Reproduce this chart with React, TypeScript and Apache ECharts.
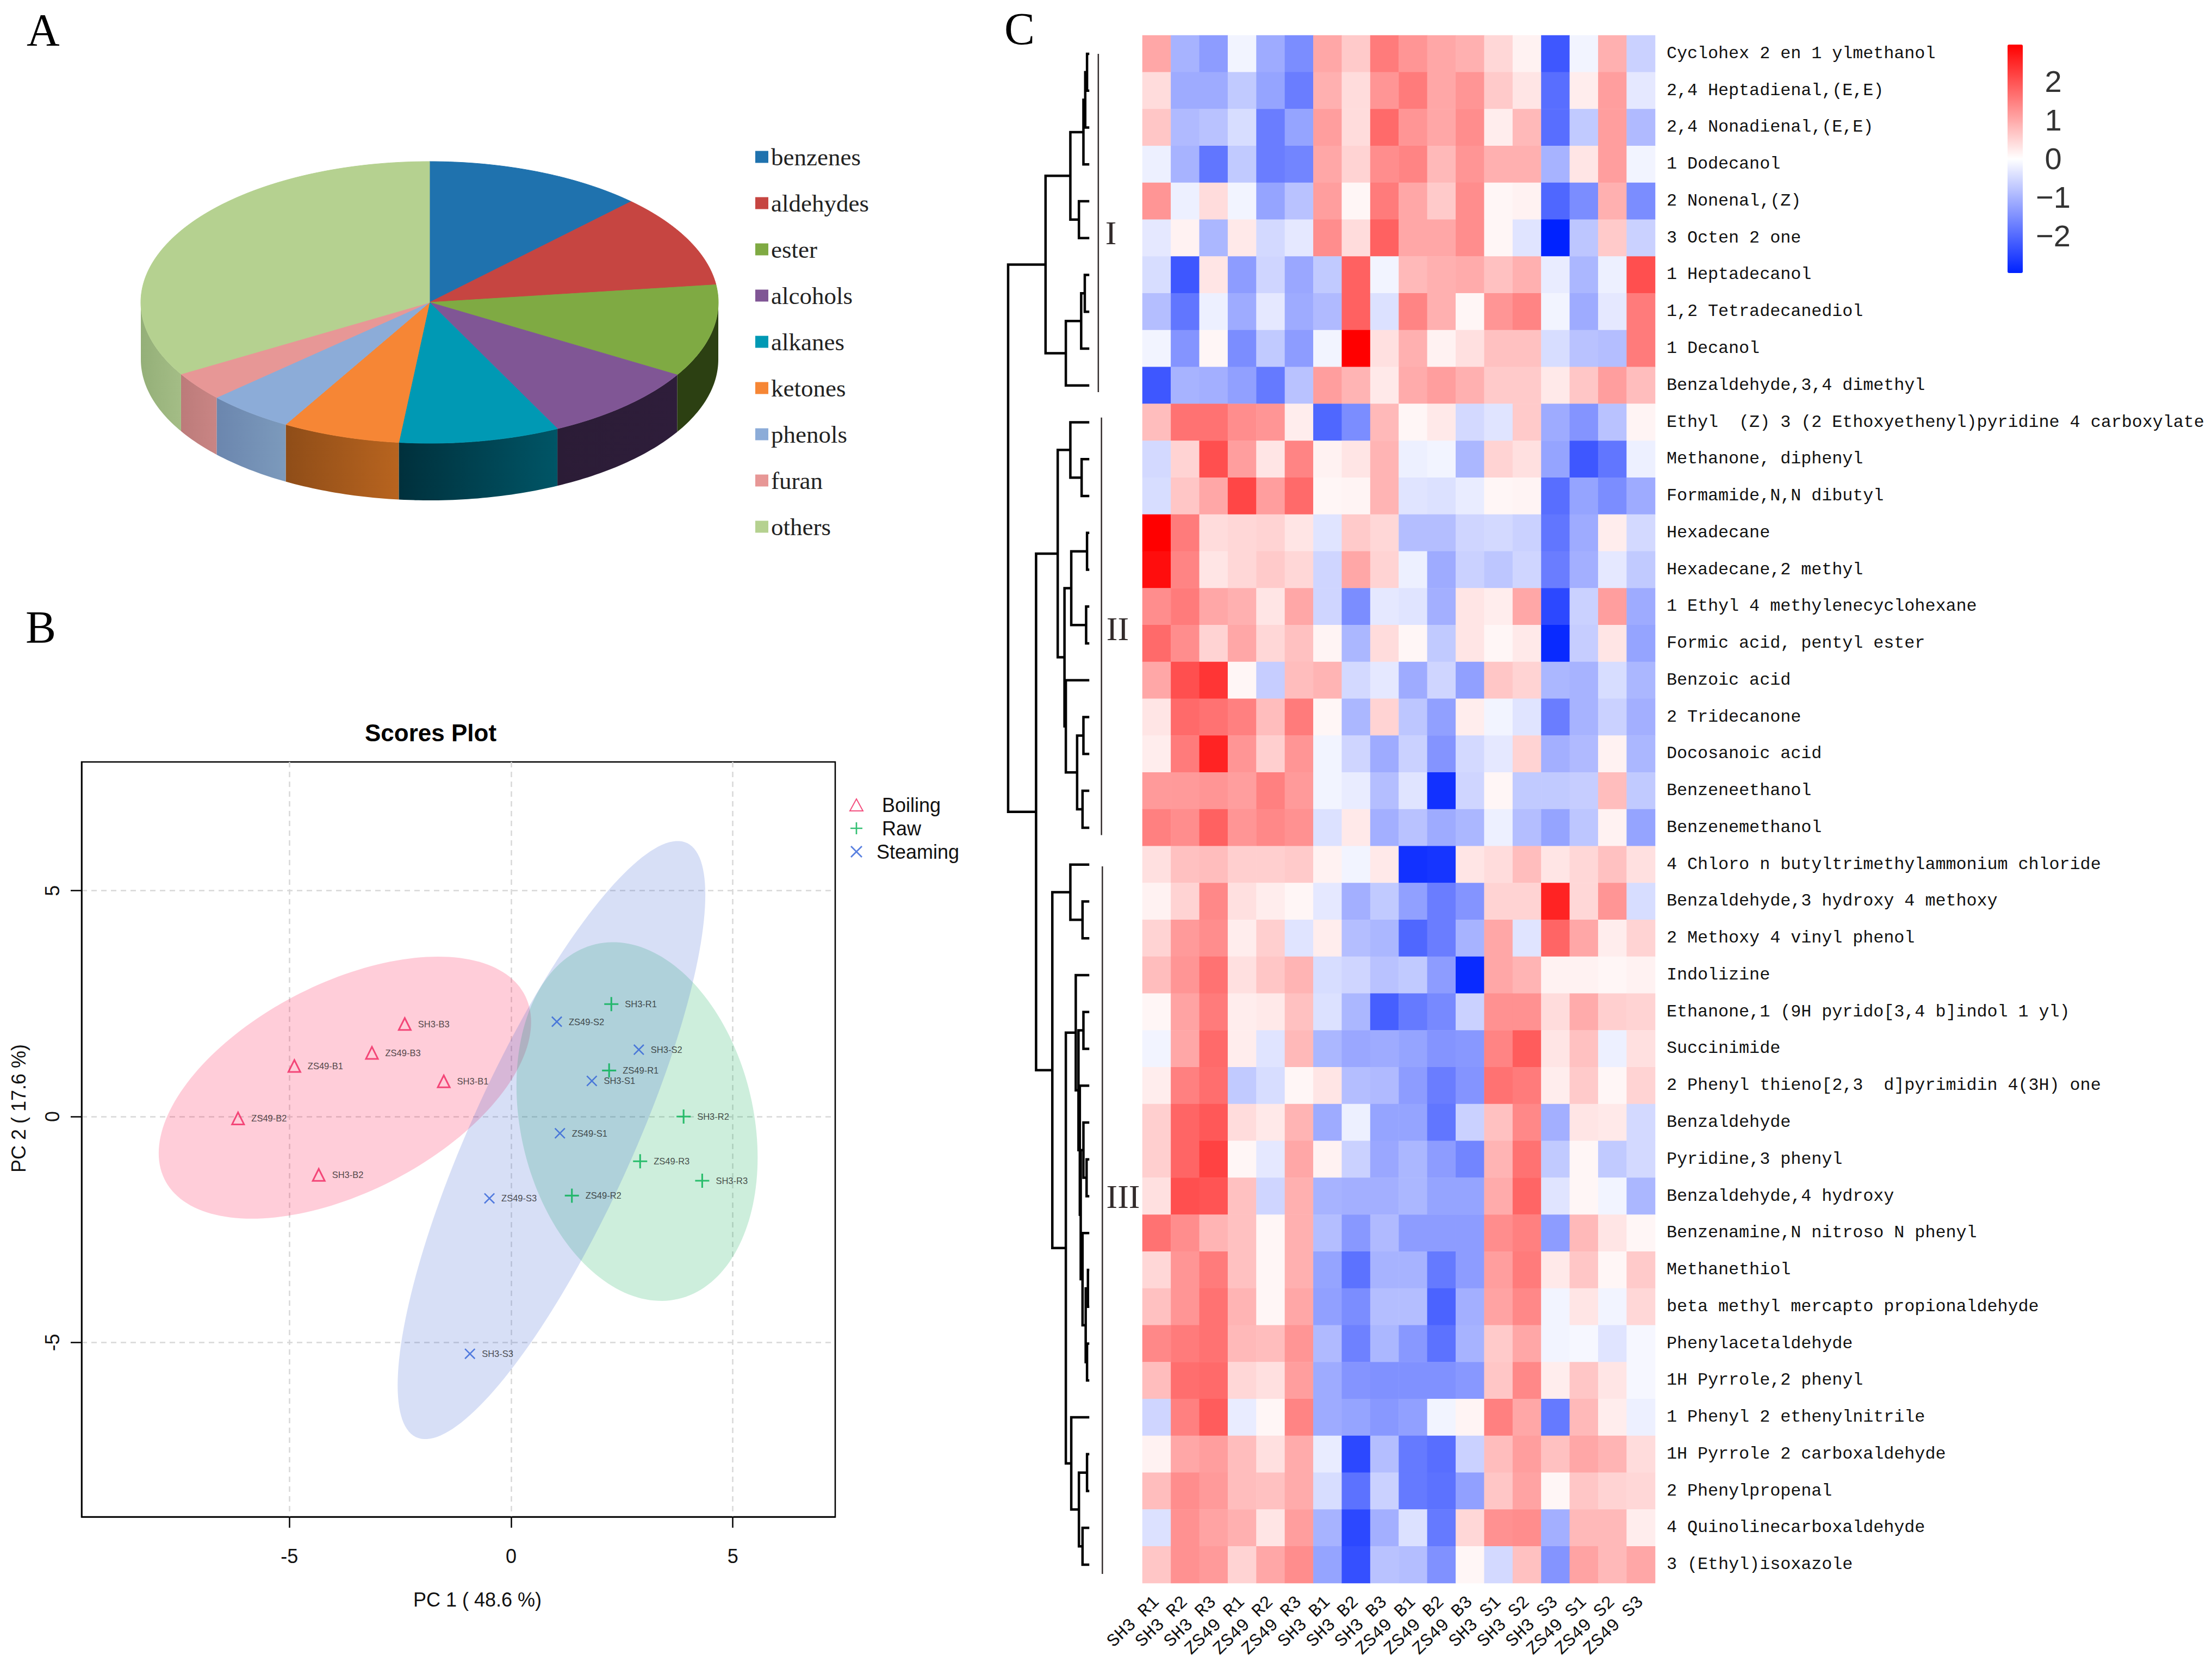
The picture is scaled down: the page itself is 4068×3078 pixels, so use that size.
import React, { useEffect, useRef } from "react";
import * as echarts from "echarts";

const SERIF = "Liberation Serif";
const SANS = "Liberation Sans";
const MONO = "Liberation Mono";

// ---------- Panel A ----------
const pieNames = ["benzenes", "aldehydes", "ester", "alcohols", "alkanes", "ketones", "phenols", "furan", "others"];
const pieValues = [12.3, 10.7, 10.6, 9.1, 9.0, 6.6, 4.9, 3.3, 33.5];
const pieColors = ["#1F72AE", "#C64541", "#7FAA43", "#805695", "#0099B4", "#F68635", "#8CACD8", "#E79796", "#B5D190"];
const pieWallColors = [
  ["#1F72AE", "#1F72AE"], ["#C64541", "#C64541"], ["#2C4012", "#2C4012"], ["#2E1D3A", "#2B1C36"],
  ["#005566", "#00303C"], ["#B8641F", "#8F4D18"], ["#7C9ABC", "#6B86AE"], ["#C98584", "#BC7B7A"], ["#A4BD86", "#94AF78"],
];

// ---------- Panel B ----------
const boilingPts: [string, number, number][] = [
  ["SH3-B3", -2.4, 2.05], ["ZS49-B3", -3.14, 1.41], ["ZS49-B1", -4.89, 1.12],
  ["SH3-B1", -1.52, 0.78], ["ZS49-B2", -6.16, -0.04], ["SH3-B2", -4.34, -1.29],
];
const rawPts: [string, number, number][] = [
  ["SH3-R1", 2.26, 2.49], ["ZS49-R1", 2.21, 1.02], ["SH3-R2", 3.89, 0],
  ["ZS49-R3", 2.91, -0.99], ["SH3-R3", 4.31, -1.42], ["ZS49-R2", 1.37, -1.75],
];
const steamingPts: [string, number, number][] = [
  ["ZS49-S2", 1.03, 2.1], ["SH3-S2", 2.88, 1.48], ["SH3-S1", 1.82, 0.79],
  ["ZS49-S1", 1.1, -0.37], ["ZS49-S3", -0.49, -1.81], ["SH3-S3", -0.93, -5.25],
];
// centre x, centre y, half extent x, half extent y, correlation
const ellipses = [
  [-3.75, 0.64, 4.2, 2.9, 0.5],
  [2.84, -0.11, 2.72, 3.97, -0.2],
  [0.91, -0.52, 3.47, 6.62, 0.82],
];
const ellipseColors = ["rgba(255,5,65,0.2)", "rgba(5,170,80,0.2)", "rgba(55,95,210,0.2)"];
const scoreTicks = [-5, 0, 5];

// ---------- Panel C ----------
const sampleNames = [
  "SH3 R1", "SH3 R2", "SH3 R3", "ZS49 R1", "ZS49 R2", "ZS49 R3",
  "SH3 B1", "SH3 B2", "SH3 B3", "ZS49 B1", "ZS49 B2", "ZS49 B3",
  "SH3 S1", "SH3 S2", "SH3 S3", "ZS49 S1", "ZS49 S2", "ZS49 S3",
];
const compoundNames = [
  "Cyclohex 2 en 1 ylmethanol", "2,4 Heptadienal,(E,E)", "2,4 Nonadienal,(E,E)", "1 Dodecanol", "2 Nonenal,(Z)",
  "3 Octen 2 one", "1 Heptadecanol", "1,2 Tetradecanediol", "1 Decanol", "Benzaldehyde,3,4 dimethyl",
  "Ethyl  (Z) 3 (2 Ethoxyethenyl)pyridine 4 carboxylate", "Methanone, diphenyl", "Formamide,N,N dibutyl", "Hexadecane",
  "Hexadecane,2 methyl", "1 Ethyl 4 methylenecyclohexane", "Formic acid, pentyl ester", "Benzoic acid", "2 Tridecanone",
  "Docosanoic acid", "Benzeneethanol", "Benzenemethanol", "4 Chloro n butyltrimethylammonium chloride",
  "Benzaldehyde,3 hydroxy 4 methoxy", "2 Methoxy 4 vinyl phenol", "Indolizine", "Ethanone,1 (9H pyrido[3,4 b]indol 1 yl)",
  "Succinimide", "2 Phenyl thieno[2,3  d]pyrimidin 4(3H) one", "Benzaldehyde", "Pyridine,3 phenyl", "Benzaldehyde,4 hydroxy",
  "Benzenamine,N nitroso N phenyl", "Methanethiol", "beta methyl mercapto propionaldehyde", "Phenylacetaldehyde",
  "1H Pyrrole,2 phenyl", "1 Phenyl 2 ethenylnitrile", "1H Pyrrole 2 carboxaldehyde", "2 Phenylpropenal",
  "4 Quinolinecarboxaldehyde", "3 (Ethyl)isoxazole",
];
const heatValues = [
  [1.0, -1.0, -1.3, -0.15, -1.1, -1.5, 1.0, 0.6, 1.5, 1.2, 1.0, 0.9, 0.45, 0.15, -2.2, -0.15, 0.9, -0.6],
  [0.4, -1.1, -1.1, -0.7, -1.2, -1.7, 0.9, 0.4, 1.2, 1.5, 1.0, 1.2, 0.6, 0.3, -1.9, 0.2, 1.1, -0.3],
  [0.65, -0.9, -0.8, -0.45, -1.7, -1.2, 1.1, 0.4, 1.7, 1.2, 1.0, 1.3, 0.2, 0.8, -1.9, -0.7, 1.1, -0.9],
  [-0.2, -1.0, -1.8, -0.7, -1.7, -1.6, 1.0, 0.5, 1.3, 1.4, 0.8, 1.2, 0.9, 0.9, -1.0, 0.3, 1.1, -0.15],
  [1.2, -0.2, 0.4, -0.15, -1.2, -0.8, 1.1, 0.1, 1.5, 1.0, 0.6, 1.3, 0.1, 0.15, -2.0, -1.5, 0.9, -1.5],
  [-0.3, 0.15, -0.95, 0.25, -0.5, -0.3, 1.3, 0.4, 1.8, 1.0, 1.0, 1.3, 0.1, -0.35, -2.9, -0.75, 0.6, -0.6],
  [-0.45, -2.2, 0.3, -1.3, -0.55, -1.15, -0.7, 1.8, -0.15, 0.8, 0.9, 0.95, 0.7, 0.9, -0.25, -0.95, -0.2, 2.0],
  [-0.85, -1.8, -0.2, -1.1, -0.3, -1.1, -0.9, 1.8, -0.4, 1.4, 0.9, 0.1, 1.2, 1.4, -0.15, -1.1, -0.3, 1.5],
  [-0.15, -1.4, 0.1, -1.5, -0.7, -1.3, -0.15, 2.9, 0.35, 0.9, 0.15, 0.35, 0.7, 0.7, -0.45, -0.8, -0.85, 1.5],
  [-2.2, -1.0, -1.05, -1.25, -1.75, -0.8, 1.1, 0.85, 0.25, 0.95, 1.1, 0.9, 0.6, 0.6, 0.25, 0.65, 1.1, 0.75],
  [0.75, 1.6, 1.6, 1.3, 1.2, 0.2, -2.0, -1.5, 0.8, 0.1, 0.25, -0.5, -0.35, 0.6, -1.1, -1.4, -0.8, 0.12],
  [-0.5, 0.5, 2.0, 1.1, 0.3, 1.4, 0.15, 0.3, 0.85, -0.2, -0.15, -0.95, 0.5, 0.35, -1.2, -2.2, -1.8, -0.2],
  [-0.45, 0.65, 1.0, 2.1, 1.1, 1.7, 0.1, 0.12, 0.85, -0.35, -0.4, -0.25, 0.1, 0.12, -1.9, -1.2, -1.5, -1.1],
  [2.9, 1.5, 0.4, 0.45, 0.5, 0.3, -0.35, 0.6, 0.45, -0.85, -0.85, -0.55, -0.5, -0.6, -1.8, -1.1, 0.2, -0.5],
  [2.75, 1.4, 0.3, 0.45, 0.6, 0.45, -0.55, 1.0, 0.5, -0.2, -1.1, -0.6, -0.75, -0.55, -1.7, -1.05, -0.3, -0.7],
  [1.3, 1.5, 1.0, 0.9, 0.3, 1.0, -0.55, -1.5, -0.3, -0.35, -1.05, 0.3, 0.2, 1.0, -2.4, -0.6, 1.1, -1.1],
  [1.7, 1.3, 0.5, 1.0, 0.45, 0.7, 0.12, -0.95, 0.4, 0.1, -0.7, 0.3, 0.1, 0.25, -2.8, -0.65, 0.3, -1.2],
  [1.0, 2.0, 2.3, 0.1, -0.65, 0.75, 0.85, -0.5, -0.3, -1.1, -0.55, -1.25, 0.65, 0.5, -0.95, -1.0, -0.45, -0.95],
  [0.3, 1.7, 1.6, 1.45, 0.75, 1.5, 0.1, -0.95, 0.5, -0.75, -1.25, 0.2, -0.15, -0.35, -1.7, -1.0, -0.6, -1.05],
  [0.2, 1.5, 2.5, 1.2, 0.55, 1.2, -0.15, -0.55, -1.1, -0.6, -1.4, -0.5, -0.3, 0.5, -1.05, -0.9, 0.15, -0.95],
  [1.15, 1.15, 1.2, 1.1, 1.45, 1.15, -0.15, -0.25, -0.85, -0.35, -2.7, -0.55, 0.1, -0.7, -0.7, -0.65, 0.75, -0.7],
  [1.45, 1.3, 1.8, 1.2, 1.35, 1.25, -0.4, 0.25, -1.05, -0.8, -1.1, -0.95, -0.2, -0.85, -1.2, -0.75, 0.15, -1.2],
  [0.35, 0.7, 0.75, 0.55, 0.55, 0.6, 0.15, -0.15, 0.25, -2.7, -2.65, 0.3, 0.4, 0.75, 0.3, 0.45, 0.7, 0.35],
  [0.15, 0.5, 1.35, 0.35, 0.2, 0.1, -0.3, -1.05, -0.7, -1.25, -1.7, -1.4, 0.5, 0.5, 2.5, 0.45, 1.2, -0.45],
  [0.5, 1.15, 1.3, 0.2, 0.55, -0.35, 0.2, -0.85, -0.95, -2.0, -1.7, -1.0, 1.0, -0.35, 1.75, 1.0, 0.2, 0.5],
  [0.75, 1.2, 1.6, 0.35, 0.65, 0.85, -0.45, -0.55, -0.8, -0.7, -1.3, -2.8, 1.0, 0.85, 0.15, 0.15, 0.1, 0.15],
  [0.1, 1.05, 1.5, 0.2, 0.25, 0.7, -0.4, -0.95, -2.1, -1.75, -1.55, -0.6, 1.25, 1.25, 0.4, 0.95, 0.55, 0.5],
  [-0.15, 1.0, 1.7, 0.2, -0.35, 0.8, -0.95, -1.15, -1.1, -1.2, -1.4, -1.35, 1.4, 1.85, 0.3, 0.7, -0.2, 0.35],
  [0.2, 1.45, 1.65, -0.7, -0.45, 0.1, 0.3, -0.85, -0.9, -1.3, -1.7, -1.4, 1.6, 1.5, 0.2, 0.6, 0.1, 0.5],
  [0.55, 1.75, 1.9, 0.4, 0.25, 0.85, -1.1, -0.2, -1.2, -1.2, -1.8, -0.6, 0.7, 1.35, -1.05, 0.3, 0.25, -0.5],
  [0.55, 1.75, 2.15, 0.1, -0.3, 1.0, 0.15, -0.6, -1.15, -0.95, -1.3, -1.6, 0.85, 1.6, -0.7, 0.1, -0.7, -0.5],
  [0.35, 2.0, 1.95, 0.7, -0.55, 0.9, -1.0, -1.05, -1.05, -0.95, -1.2, -1.2, 0.95, 1.75, -0.35, 0.1, -0.15, -0.95],
  [1.6, 1.3, 0.85, 0.7, 0.1, 0.9, -0.85, -1.35, -0.9, -1.3, -1.3, -1.3, 1.3, 1.45, -1.3, 0.8, 0.3, 0.1],
  [0.45, 1.2, 1.5, 0.7, 0.1, 0.9, -1.2, -1.85, -1.0, -1.0, -1.75, -1.3, 1.1, 1.5, 0.25, 0.65, 0.1, 0.6],
  [0.7, 1.2, 1.6, 0.85, 0.1, 1.0, -1.25, -1.5, -0.85, -0.85, -2.05, -1.05, 1.05, 1.35, -0.15, 0.3, -0.15, 0.45],
  [1.35, 1.5, 1.6, 0.8, 0.75, 1.2, -0.9, -1.65, -0.95, -1.35, -1.85, -1.0, 0.6, 1.0, -0.15, -0.1, -0.35, -0.1],
  [0.75, 1.65, 1.7, 0.45, 0.35, 1.1, -1.1, -1.4, -1.45, -1.45, -1.45, -1.35, 0.65, 1.35, 0.2, 0.65, 0.3, -0.1],
  [-0.55, 1.45, 1.85, -0.25, 0.1, 1.4, -1.1, -1.2, -1.35, -1.25, -0.15, 0.12, 1.45, 1.0, -1.75, 0.8, 0.2, -0.2],
  [0.15, 1.0, 1.1, 0.75, 0.35, 0.95, -0.25, -2.4, -0.85, -1.75, -1.9, -0.6, 0.75, 1.1, 0.7, 1.0, 0.85, 0.4],
  [0.75, 1.3, 1.15, 0.75, 0.7, 0.95, -0.45, -1.85, -0.6, -1.75, -1.85, -1.25, 0.65, 1.05, 0.1, 0.65, 0.5, 0.45],
  [-0.4, 1.25, 1.05, 0.9, 0.3, 1.1, -1.0, -2.4, -1.05, -0.4, -1.75, 0.45, 1.25, 1.3, -1.05, 0.8, 0.8, 0.2],
  [0.65, 1.25, 1.15, 0.5, 1.0, 1.3, -1.2, -2.3, -0.8, -0.85, -1.45, 0.1, -0.5, 0.7, -1.4, 1.05, 0.8, 1.0],
];
const colorbarTicks = [-2, -1, 0, 1, 2];

// dendrogram: a node is a row index, or [merge height, upper child, lower child]
type DNode = number | [number, DNode, DNode];
const dendroTree: DNode = [180,
  [97,
    [42, [13, [9, [5, 0, 1], 2], 3], [23, 4, 5]],
    [52, [18, [10, 6, 7], 8], 9],
  ],
  [118,
    [70,
      [42, 10, [17, 11, 12]],
      [55,
        [40, [5, 13, 14], [7, 15, 16]],
        [52, 17, [27, [13, 18, 19], [15, 20, 21]]],
      ],
    ],
    [82,
      [42, 22, [15, 23, 24]],
      [52,
        [30, 25, [24, [13, 26, 27],
          [21, 28, [19, [13, 29, [6, 30, 31]], [15, 32, [8, [3, 33, 34], [5, 35, 36]]]]]]],
        [40, 37, [23, [5, 38, 39], [15, 40, 41]]],
      ],
    ],
  ],
];
const groupNames = ["I", "II", "III"];
// first row, last row, bar height, label height, label row
const groupSpans = [
  [0, 9.18, -20, -48, 4.85],
  [9.87, 21.2, -27, -63, 15.6],
  [22.05, 41.25, -29, -75, 31.0],
];

function flattenTree(node: DNode, out: number[][]): [number, number] {
  if (typeof node === "number") return [node, 0];
  const [h, a, b] = node;
  const [ya, ha] = flattenTree(a, out);
  const [yb, hb] = flattenTree(b, out);
  out.push([h, ya, ha, yb, hb]);
  return [(ya + yb) / 2, h];
}

const deg = Math.PI / 180;

function pieSeries(i: number) {
  const total = pieValues.reduce((s, v) => s + v, 0);
  const before = pieValues.slice(0, i).reduce((s, v) => s + v, 0);
  const a0 = (before / total) * 360;
  const a1 = ((before + pieValues[i]) / total) * 360;
  const cx = 790, cy = 556, rx = 531, ry = 259, depth = 105;
  const at = (a: number, dy = 0) => [cx + rx * Math.sin(a * deg), cy - ry * Math.cos(a * deg) + dy];
  const arc = (from: number, to: number, dy = 0) => {
    const pts: number[][] = [];
    const n = Math.max(2, Math.ceil(Math.abs(to - from)));
    for (let k = 0; k <= n; k++) pts.push(at(from + ((to - from) * k) / n, dy));
    return pts;
  };
  return {
    type: "custom",
    name: pieNames[i],
    coordinateSystem: "none",
    silent: true,
    itemStyle: { color: pieColors[i] },
    data: [[pieValues[i]]],
    renderItem: () => {
      const children: any[] = [];
      const w0 = Math.max(a0, 90), w1 = Math.min(a1, 270);
      if (w1 > w0) {
        children.push({
          type: "polygon",
          shape: { points: [...arc(w0, w1), ...arc(w1, w0, depth)] },
          style: {
            fill: new echarts.graphic.LinearGradient(0, 0, 1, 0, [
              { offset: 0, color: pieWallColors[i][1] },
              { offset: 1, color: pieWallColors[i][0] },
            ]),
          },
        });
      }
      children.push({
        type: "polygon",
        shape: { points: [[cx, cy], ...arc(a0, a1)] },
        style: { fill: pieColors[i], stroke: pieColors[i], lineWidth: 1 },
      });
      return { type: "group", children };
    },
  };
}

const plusPath = "path://M0,44 H100 V56 H0 Z M44,0 H56 V100 H44 Z";
const crossPath = "path://M0,9 L9,0 L100,91 L91,100 Z M91,0 L100,9 L9,100 L0,91 Z";

function scoreSeries(name: string, pts: [string, number, number][], color: string, symbol: string, size: number, hollow: boolean) {
  return {
    type: "scatter",
    name,
    xAxisIndex: 0,
    yAxisIndex: 0,
    symbol,
    symbolSize: size,
    itemStyle: hollow
      ? { color: "rgba(255,255,255,0)", borderColor: color, borderWidth: 3 }
      : { color },
    label: {
      show: true,
      position: "right",
      distance: 12,
      fontFamily: SANS,
      fontSize: 16.5,
      color: "#222",
      formatter: (p: any) => p.name,
    },
    data: pts.map(([n, x, y]) => ({ name: n, value: [x, y] })),
  };
}

const letter = (text: string, left: number, top: number) => ({
  text,
  left,
  top,
  textStyle: { fontFamily: SERIF, fontSize: 84, fontWeight: "normal" as const, color: "#000" },
});

export default function App() {
  const ref = useRef<HTMLDivElement>(null);
  useEffect(() => {
    const chart = echarts.init(ref.current!, undefined, { renderer: "svg" });
    const merges: number[][] = [];
    flattenTree(dendroTree, merges);
    const heatData: number[][] = [];
    heatValues.forEach((row, r) => row.forEach((v, c) => heatData.push([c, r, v])));

    const gridLine = { show: true, lineStyle: { color: "#D8D8D8", type: [10, 8] as any, width: 2.5 } };
    const axisText = { fontFamily: SANS, fontSize: 36, color: "#111" };

    chart.setOption({
      animation: false,
      backgroundColor: "#fff",
      title: [
        letter("A", 44, 8),
        letter("B", 42, 1106),
        letter("C", 1842, 6),
        {
          text: "Scores Plot",
          left: 787,
          top: 1320,
          textAlign: "center",
          textStyle: { fontFamily: SANS, fontSize: 44, fontWeight: "bold", color: "#000" },
        },
      ],
      legend: [
        {
          data: pieNames,
          orient: "vertical",
          left: 1389,
          top: 266,
          itemWidth: 24,
          itemHeight: 22,
          itemGap: 40,
          icon: "rect",
          selectedMode: false,
          padding: 0,
          textStyle: { fontFamily: SERIF, fontSize: 45, color: "#222" },
        },
        {
          data: ["Boiling", "Raw", "Steaming"],
          orient: "vertical",
          left: 1562,
          top: 1462,
          itemWidth: 24,
          itemHeight: 22,
          itemGap: 7,
          selectedMode: false,
          padding: 0,
          formatter: (n: string) => (n === "Steaming" ? "  " + n : "   " + n),
          textStyle: { fontFamily: SANS, fontSize: 36, color: "#111" },
        },
      ],
      grid: [
        { left: 150, top: 1401, width: 1386, height: 1388, show: true, borderColor: "#000", borderWidth: 2.5, backgroundColor: "transparent" },
        { left: 2101, top: 65, width: 943, height: 2846 },
        { left: 1854, top: 65, width: 240.5, height: 2846 },
        { left: 3692, top: 82, width: 28, height: 420.5 },
      ],
      xAxis: [
        {
          gridIndex: 0,
          type: "value",
          min: -9.69,
          max: 7.31,
          position: "bottom",
          name: "PC 1 ( 48.6 %)",
          nameLocation: "middle",
          nameGap: 134,
          nameTextStyle: { ...axisText, padding: [0, 0, 0, 70] },
          axisLine: { show: true, onZero: false, lineStyle: { color: "#000", width: 2.5 } },
          axisTick: { show: true, length: 20, customValues: scoreTicks, lineStyle: { color: "#000", width: 2.5 } },
          axisLabel: { ...axisText, margin: 54, customValues: scoreTicks },
          splitLine: gridLine,
        },
        {
          gridIndex: 1,
          type: "category",
          data: sampleNames,
          axisLine: { show: false },
          axisTick: { show: false },
          axisLabel: { interval: 0, rotate: 44, margin: 30, fontFamily: MONO, fontSize: 33, color: "#111" },
        },
        { gridIndex: 2, type: "value", min: -110, max: 180, inverse: true, show: false, splitLine: { show: false } },
        { gridIndex: 3, type: "value", min: 0, max: 1, show: false, splitLine: { show: false } },
      ],
      yAxis: [
        {
          gridIndex: 0,
          type: "value",
          min: -8.86,
          max: 7.85,
          position: "left",
          name: "PC 2 ( 17.6 %)",
          nameLocation: "middle",
          nameGap: 98,
          nameTextStyle: { ...axisText, padding: [0, 0, 0, 114] },
          axisLine: { show: true, onZero: false, lineStyle: { color: "#000", width: 2.5 } },
          axisTick: { show: true, length: 20, customValues: scoreTicks, lineStyle: { color: "#000", width: 2.5 } },
          axisLabel: { ...axisText, rotate: 90, margin: 36, customValues: scoreTicks },
          splitLine: gridLine,
        },
        {
          gridIndex: 1,
          type: "category",
          data: compoundNames,
          inverse: true,
          position: "right",
          axisLine: { show: false },
          axisTick: { show: false },
          axisLabel: { interval: 0, margin: 21, padding: [14, 0, 0, 0], fontFamily: MONO, fontSize: 31.7, color: "#111" },
        },
        { gridIndex: 2, type: "value", min: -0.5, max: 41.5, inverse: true, show: false, splitLine: { show: false } },
        {
          gridIndex: 3,
          type: "value",
          min: -2.98,
          max: 2.96,
          position: "right",
          axisLine: { show: false },
          axisTick: { show: false, customValues: colorbarTicks },
          splitLine: { show: false },
          axisLabel: {
            customValues: colorbarTicks,
            align: "center",
            margin: 56,
            fontFamily: SANS,
            fontSize: 56,
            color: "#333",
            formatter: (v: number) => String(v).replace("-", "\u2212"),
          },
        },
      ],
      visualMap: {
        type: "continuous",
        seriesIndex: 9 + 1 + 3,
        dimension: 2,
        min: -2.9,
        max: 2.9,
        left: 3692,
        top: 82,
        padding: 0,
        itemWidth: 28,
        itemHeight: 420,
        calculable: false,
        hoverLink: false,
        inRange: { color: ["#0022FF", "#FFFFFF", "#FF0000"] },
      },
      series: [
        ...pieNames.map((_, i) => pieSeries(i)),
        {
          type: "custom",
          name: "ellipses",
          xAxisIndex: 0,
          yAxisIndex: 0,
          silent: true,
          data: ellipses,
          renderItem: (params: any, api: any) => {
            const [cx, cy, ex, ey, rho] = ellipses[params.dataIndex];
            const pts: number[][] = [];
            for (let t = 0; t < 360; t += 2) {
              const c = Math.cos(t * deg), s = Math.sin(t * deg);
              pts.push(api.coord([cx + ex * c, cy + ey * (rho * c + Math.sqrt(1 - rho * rho) * s)]));
            }
            return { type: "polygon", shape: { points: pts }, style: { fill: ellipseColors[params.dataIndex] } };
          },
        },
        scoreSeries("Boiling", boilingPts, "#F0245F", "triangle", 22, true),
        scoreSeries("Raw", rawPts, "#00B050", plusPath, 26, false),
        scoreSeries("Steaming", steamingPts, "#3060D8", crossPath, 20, false),
        {
          type: "heatmap",
          name: "heatmap",
          xAxisIndex: 1,
          yAxisIndex: 1,
          silent: true,
          progressive: 0,
          data: heatData,
        },
        {
          type: "custom",
          name: "dendrogram",
          xAxisIndex: 2,
          yAxisIndex: 2,
          silent: true,
          data: merges,
          encode: { x: 0, y: 1 },
          renderItem: (params: any, api: any) => {
            const [h, ya, ha, yb, hb] = merges[params.dataIndex];
            return {
              type: "polyline",
              shape: { points: [api.coord([ha, ya]), api.coord([h, ya]), api.coord([h, yb]), api.coord([hb, yb])] },
              style: { stroke: "#000", lineWidth: 4.5, fill: null },
            };
          },
        },
        {
          type: "custom",
          name: "groups",
          xAxisIndex: 2,
          yAxisIndex: 2,
          silent: true,
          data: groupSpans,
          encode: { x: 2, y: 0 },
          renderItem: (params: any, api: any) => {
            const [r0, r1, hBar, hText, rText] = groupSpans[params.dataIndex];
            const a = api.coord([hBar, r0]);
            const b = api.coord([hBar, r1]);
            const t = api.coord([hText, rText]);
            return {
              type: "group",
              children: [
                { type: "line", shape: { x1: a[0], y1: a[1], x2: b[0], y2: b[1] }, style: { stroke: "#332C2C", lineWidth: 2.5 } },
                {
                  type: "text",
                  style: {
                    text: groupNames[params.dataIndex],
                    x: t[0],
                    y: t[1],
                    align: "center",
                    verticalAlign: "middle",
                    fontFamily: SERIF,
                    fontSize: 62,
                    fill: "#332C2C",
                  },
                },
              ],
            };
          },
        },
      ],
    });
    return () => chart.dispose();
  }, []);
  return <div ref={ref} style={{ position: "absolute", left: 0, top: 0, width: 4068, height: 3078 }} />;
}
